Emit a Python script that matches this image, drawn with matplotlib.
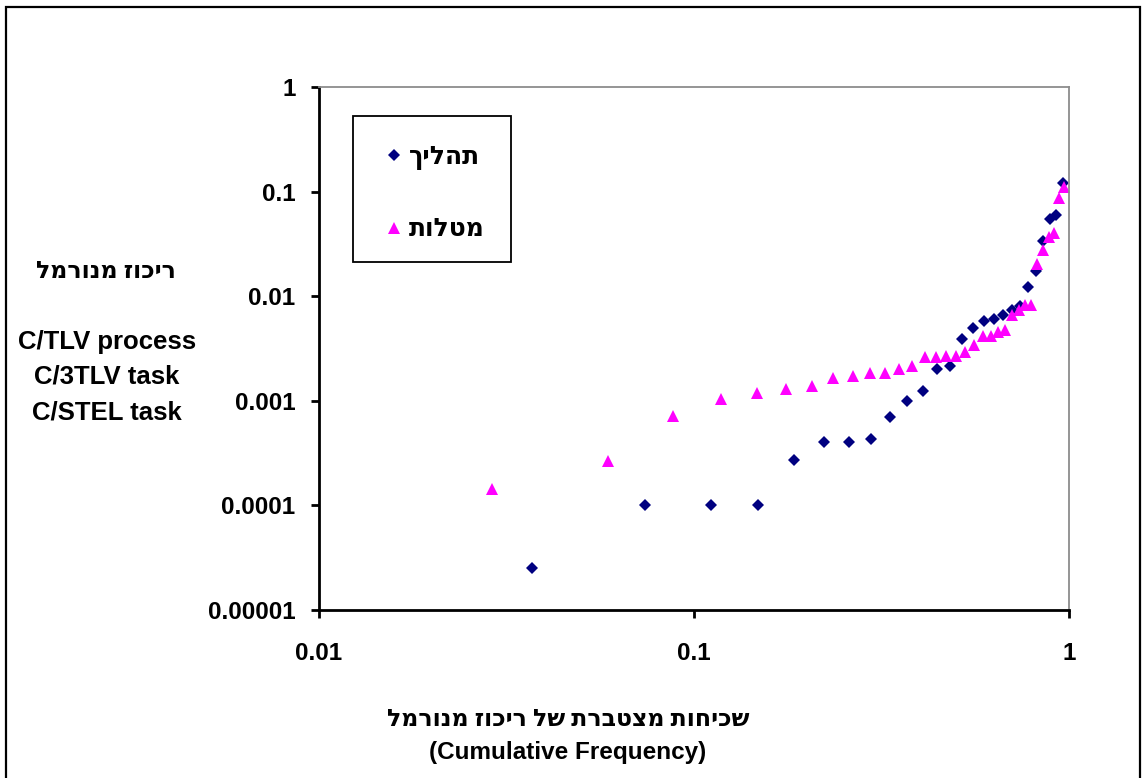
import matplotlib
matplotlib.use("Agg")
import matplotlib.pyplot as plt
from matplotlib.patches import Rectangle

plt.rcParams['font.family'] = ['Liberation Sans', 'DejaVu Sans']
plt.rcParams['font.weight'] = 'bold'

# Cumulative frequency (x) and normalised concentration (y) per series
process_freq = [0.037, 0.074, 0.111, 0.148, 0.185, 0.222, 0.259, 0.296, 0.333,
                0.370, 0.407, 0.444, 0.481, 0.519, 0.556, 0.593, 0.630, 0.667,
                0.704, 0.741, 0.778, 0.815, 0.852, 0.889, 0.926, 0.963]
process_conc = [2.5e-5, 1.0e-4, 1.0e-4, 1.0e-4, 2.7e-4, 4.0e-4, 4.0e-4, 4.3e-4,
                7.0e-4, 1.0e-3, 1.25e-3, 2.0e-3, 2.15e-3, 3.9e-3, 5.0e-3,
                5.8e-3, 6.0e-3, 6.6e-3, 7.3e-3, 8.0e-3, 0.0122, 0.0173, 0.0335,
                0.055, 0.060, 0.12]

task_freq = [0.029, 0.059, 0.088, 0.118, 0.147, 0.176, 0.206, 0.235, 0.265,
             0.294, 0.324, 0.353, 0.382, 0.412, 0.441, 0.471, 0.500, 0.529,
             0.559, 0.588, 0.618, 0.647, 0.676, 0.706, 0.735, 0.765, 0.794,
             0.824, 0.853, 0.882, 0.912, 0.941, 0.971]
task_conc = [1.45e-4, 2.65e-4, 7.2e-4, 1.05e-3, 1.2e-3, 1.3e-3, 1.4e-3, 1.67e-3,
             1.74e-3, 1.85e-3, 1.85e-3, 2.03e-3, 2.17e-3, 2.6e-3, 2.6e-3,
             2.7e-3, 2.7e-3, 2.9e-3, 3.4e-3, 4.2e-3, 4.2e-3, 4.5e-3, 4.7e-3,
             6.6e-3, 7.3e-3, 8.2e-3, 8.2e-3, 0.0205, 0.0275, 0.0365, 0.040,
             0.087, 0.110]

x_ticks = [0.01, 0.1, 1]
x_tick_labels = ['0.01', '0.1', '1']
y_ticks = [1e-5, 1e-4, 1e-3, 1e-2, 1e-1, 1]
y_tick_labels = ['0.00001', '0.0001', '0.001', '0.01', '0.1', '1']


def rtl(s):
    """Hebrew is laid out left-to-right by matplotlib, so store it in visual order."""
    return s[::-1]


label_process = rtl('תהליך')
label_task = rtl('מטלות')
y_title = rtl('ריכוז מנורמל')
y_sub = ['C/TLV process', 'C/3TLV task', 'C/STEL task']
x_title = rtl('שכיחות מצטברת של ריכוז מנורמל')
x_sub = '(Cumulative Frequency)'

HEB = ['Open Sans', 'DejaVu Sans']

W, H = 1143, 778
fig = plt.figure(figsize=(W / 100, H / 100), dpi=100)
ax = fig.add_axes([319 / W, 1 - 610 / H, (1069 - 319) / W, (610 - 87) / H])

ax.plot(process_freq, process_conc, linestyle='none', marker='D', ms=5.8,
        color='#000080', markeredgewidth=0, label=label_process)
ax.plot(task_freq, task_conc, linestyle='none', marker='^', ms=8.5,
        color='#FF00FF', markeredgewidth=0, label=label_task)

ax.set_xscale('log')
ax.set_yscale('log')
ax.set_xlim(0.01, 1)
ax.set_ylim(1e-5, 1)
ax.set_xticks(x_ticks)
ax.set_xticklabels(x_tick_labels)
ax.set_yticks(y_ticks)
ax.set_yticklabels(y_tick_labels)
ax.minorticks_off()
ax.tick_params(axis='both', which='major', direction='out', length=6, width=2,
               labelsize=17.5, colors='black')
ax.tick_params(axis='x', pad=17)
ax.tick_params(axis='y', pad=11)
for lab in ax.get_xticklabels() + ax.get_yticklabels():
    lab.set_fontweight('bold')

for side in ('left', 'bottom'):
    ax.spines[side].set_linewidth(2)
    ax.spines[side].set_color('black')
for side in ('top', 'right'):
    ax.spines[side].set_linewidth(1.3)
    ax.spines[side].set_color('#8c8c8c')

# Legend entries, with a separate box drawn around them
leg = ax.legend(loc='upper left', bbox_to_anchor=(353 / W, 1 - 116 / H),
                bbox_transform=fig.transFigure, borderaxespad=0,
                frameon=False, borderpad=1.15, labelspacing=1.9,
                handlelength=0.95, handletextpad=0.12,
                prop={'family': HEB, 'weight': 'bold', 'size': 18})
fig.patches.append(Rectangle((353 / W, 1 - 262 / H), (511 - 353) / W,
                             (262 - 116) / H, transform=fig.transFigure,
                             fill=False, edgecolor='black', linewidth=1.3,
                             zorder=5))

# Axis titles
fig.text(106 / W, 1 - 272 / H, y_title, ha='center', va='center', fontsize=17,
         fontweight='bold', family=HEB)
for txt, ypx in zip(y_sub, [349, 384, 419]):
    fig.text(107 / W, 1 - ypx / H, txt, ha='center', va='baseline',
             fontsize=18.5, fontweight='bold')
fig.text(568 / W, 1 - 720 / H, x_title, ha='center', va='center', fontsize=17,
         fontweight='bold', family=HEB)
fig.text(568 / W, 1 - 752 / H, x_sub, ha='center', va='center', fontsize=17.5,
         fontweight='bold')

# Chart border
fig.patches.append(Rectangle((6 / W, -0.05), (1140 - 6) / W, 1.05 - 7 / H,
                             transform=fig.transFigure, fill=False,
                             edgecolor='black', linewidth=1.6))

fig.savefig('out.png', dpi=100)
